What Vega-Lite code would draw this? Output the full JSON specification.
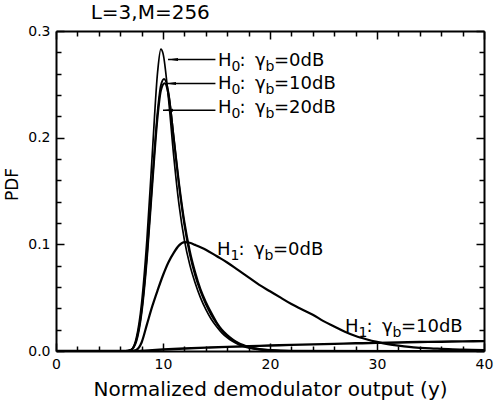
{
  "$schema": "https://vega.github.io/schema/vega-lite/v6.json",
  "width": 428,
  "height": 320,
  "autosize": {"type": "none"},
  "padding": {"left": 56, "top": 31, "right": 10, "bottom": 53},
  "background": "white",
  "config": {
    "view": {"stroke": null},
    "axis": {
      "domainColor": "black",
      "domainWidth": 2,
      "tickColor": "black",
      "tickWidth": 1.5,
      "grid": false,
      "labelFont": "DejaVu Sans",
      "labelFontSize": 14,
      "labelColor": "black",
      "titleFont": "DejaVu Sans",
      "titleFontWeight": "normal",
      "titleColor": "black"
    },
    "text": {"font": "DejaVu Sans", "color": "black"}
  },
  "datasets": {
    "curves": [
      {"s": "H0_0", "x": 0, "y": 0}, {"s": "H0_0", "x": 6.5, "y": 0}, {"s": "H0_0", "x": 7.0, "y": 0.001},
      {"s": "H0_0", "x": 7.5, "y": 0.012}, {"s": "H0_0", "x": 8.0, "y": 0.045}, {"s": "H0_0", "x": 8.5, "y": 0.105},
      {"s": "H0_0", "x": 9.0, "y": 0.185}, {"s": "H0_0", "x": 9.5, "y": 0.262}, {"s": "H0_0", "x": 9.8, "y": 0.283},
      {"s": "H0_0", "x": 10.0, "y": 0.279}, {"s": "H0_0", "x": 10.5, "y": 0.238}, {"s": "H0_0", "x": 11.0, "y": 0.183},
      {"s": "H0_0", "x": 11.5, "y": 0.137}, {"s": "H0_0", "x": 12.0, "y": 0.104}, {"s": "H0_0", "x": 12.5, "y": 0.081},
      {"s": "H0_0", "x": 13.0, "y": 0.064}, {"s": "H0_0", "x": 13.5, "y": 0.05}, {"s": "H0_0", "x": 14.0, "y": 0.039},
      {"s": "H0_0", "x": 14.5, "y": 0.03}, {"s": "H0_0", "x": 15.0, "y": 0.023}, {"s": "H0_0", "x": 15.5, "y": 0.017},
      {"s": "H0_0", "x": 16.0, "y": 0.0125}, {"s": "H0_0", "x": 16.5, "y": 0.009}, {"s": "H0_0", "x": 17.0, "y": 0.0063},
      {"s": "H0_0", "x": 17.5, "y": 0.0043}, {"s": "H0_0", "x": 18.0, "y": 0.0029}, {"s": "H0_0", "x": 19.0, "y": 0.0012},
      {"s": "H0_0", "x": 20.0, "y": 0.0004}, {"s": "H0_0", "x": 22.0, "y": 0}, {"s": "H0_0", "x": 40.0, "y": 0},

      {"s": "H0_10", "x": 0, "y": 0}, {"s": "H0_10", "x": 6.5, "y": 0}, {"s": "H0_10", "x": 7.0, "y": 0.001},
      {"s": "H0_10", "x": 7.5, "y": 0.01}, {"s": "H0_10", "x": 8.0, "y": 0.038}, {"s": "H0_10", "x": 8.5, "y": 0.09},
      {"s": "H0_10", "x": 9.0, "y": 0.16}, {"s": "H0_10", "x": 9.5, "y": 0.225}, {"s": "H0_10", "x": 9.8, "y": 0.249},
      {"s": "H0_10", "x": 10.1, "y": 0.255}, {"s": "H0_10", "x": 10.5, "y": 0.243}, {"s": "H0_10", "x": 11.0, "y": 0.2},
      {"s": "H0_10", "x": 11.5, "y": 0.155}, {"s": "H0_10", "x": 12.0, "y": 0.118}, {"s": "H0_10", "x": 12.5, "y": 0.091},
      {"s": "H0_10", "x": 13.0, "y": 0.071}, {"s": "H0_10", "x": 13.5, "y": 0.056}, {"s": "H0_10", "x": 14.0, "y": 0.044},
      {"s": "H0_10", "x": 14.5, "y": 0.034}, {"s": "H0_10", "x": 15.0, "y": 0.026}, {"s": "H0_10", "x": 15.5, "y": 0.019},
      {"s": "H0_10", "x": 16.0, "y": 0.014}, {"s": "H0_10", "x": 16.5, "y": 0.0102}, {"s": "H0_10", "x": 17.0, "y": 0.0073},
      {"s": "H0_10", "x": 17.5, "y": 0.0051}, {"s": "H0_10", "x": 18.0, "y": 0.0035}, {"s": "H0_10", "x": 19.0, "y": 0.0016},
      {"s": "H0_10", "x": 20.0, "y": 0.0007}, {"s": "H0_10", "x": 22.0, "y": 0.0001}, {"s": "H0_10", "x": 40.0, "y": 0},

      {"s": "H0_20", "x": 0, "y": 0}, {"s": "H0_20", "x": 6.5, "y": 0}, {"s": "H0_20", "x": 7.0, "y": 0.001},
      {"s": "H0_20", "x": 7.5, "y": 0.009}, {"s": "H0_20", "x": 8.0, "y": 0.036}, {"s": "H0_20", "x": 8.5, "y": 0.087},
      {"s": "H0_20", "x": 9.0, "y": 0.156}, {"s": "H0_20", "x": 9.5, "y": 0.22}, {"s": "H0_20", "x": 9.8, "y": 0.244},
      {"s": "H0_20", "x": 10.15, "y": 0.251}, {"s": "H0_20", "x": 10.5, "y": 0.241}, {"s": "H0_20", "x": 11.0, "y": 0.2},
      {"s": "H0_20", "x": 11.5, "y": 0.157}, {"s": "H0_20", "x": 12.0, "y": 0.121}, {"s": "H0_20", "x": 12.5, "y": 0.094},
      {"s": "H0_20", "x": 13.0, "y": 0.074}, {"s": "H0_20", "x": 13.5, "y": 0.058}, {"s": "H0_20", "x": 14.0, "y": 0.046},
      {"s": "H0_20", "x": 14.5, "y": 0.036}, {"s": "H0_20", "x": 15.0, "y": 0.027}, {"s": "H0_20", "x": 15.5, "y": 0.02},
      {"s": "H0_20", "x": 16.0, "y": 0.015}, {"s": "H0_20", "x": 16.5, "y": 0.011}, {"s": "H0_20", "x": 17.0, "y": 0.0079},
      {"s": "H0_20", "x": 17.5, "y": 0.0056}, {"s": "H0_20", "x": 18.0, "y": 0.0039}, {"s": "H0_20", "x": 19.0, "y": 0.0018},
      {"s": "H0_20", "x": 20.0, "y": 0.0008}, {"s": "H0_20", "x": 22.0, "y": 0.0001}, {"s": "H0_20", "x": 40.0, "y": 0},

      {"s": "H1_0", "x": 0, "y": 0}, {"s": "H1_0", "x": 7.0, "y": 0}, {"s": "H1_0", "x": 7.5, "y": 0.001},
      {"s": "H1_0", "x": 8.0, "y": 0.008}, {"s": "H1_0", "x": 8.5, "y": 0.025}, {"s": "H1_0", "x": 9.0, "y": 0.042},
      {"s": "H1_0", "x": 9.5, "y": 0.057}, {"s": "H1_0", "x": 10.0, "y": 0.071}, {"s": "H1_0", "x": 10.5, "y": 0.083},
      {"s": "H1_0", "x": 11.0, "y": 0.092}, {"s": "H1_0", "x": 11.5, "y": 0.099}, {"s": "H1_0", "x": 12.0, "y": 0.102},
      {"s": "H1_0", "x": 12.5, "y": 0.1015}, {"s": "H1_0", "x": 13.0, "y": 0.0995}, {"s": "H1_0", "x": 14.0, "y": 0.095},
      {"s": "H1_0", "x": 15.0, "y": 0.089}, {"s": "H1_0", "x": 16.0, "y": 0.083}, {"s": "H1_0", "x": 17.0, "y": 0.076},
      {"s": "H1_0", "x": 18.0, "y": 0.069}, {"s": "H1_0", "x": 19.0, "y": 0.062}, {"s": "H1_0", "x": 20.0, "y": 0.056},
      {"s": "H1_0", "x": 21.0, "y": 0.05}, {"s": "H1_0", "x": 22.0, "y": 0.044}, {"s": "H1_0", "x": 23.0, "y": 0.039},
      {"s": "H1_0", "x": 24.0, "y": 0.034}, {"s": "H1_0", "x": 25.0, "y": 0.028}, {"s": "H1_0", "x": 26.0, "y": 0.023},
      {"s": "H1_0", "x": 27.0, "y": 0.018}, {"s": "H1_0", "x": 28.0, "y": 0.014}, {"s": "H1_0", "x": 29.0, "y": 0.011},
      {"s": "H1_0", "x": 30.0, "y": 0.0085}, {"s": "H1_0", "x": 31.0, "y": 0.0065}, {"s": "H1_0", "x": 32.0, "y": 0.005},
      {"s": "H1_0", "x": 33.0, "y": 0.0038}, {"s": "H1_0", "x": 34.0, "y": 0.003}, {"s": "H1_0", "x": 35.0, "y": 0.0024},
      {"s": "H1_0", "x": 36.0, "y": 0.002}, {"s": "H1_0", "x": 38.0, "y": 0.0012}, {"s": "H1_0", "x": 40.0, "y": 0.0008},

      {"s": "H1_10", "x": 0, "y": 0}, {"s": "H1_10", "x": 7.5, "y": 0}, {"s": "H1_10", "x": 8.0, "y": 0.0002},
      {"s": "H1_10", "x": 9.0, "y": 0.0008}, {"s": "H1_10", "x": 10.0, "y": 0.0014}, {"s": "H1_10", "x": 12.0, "y": 0.0024},
      {"s": "H1_10", "x": 14.0, "y": 0.0032}, {"s": "H1_10", "x": 16.0, "y": 0.0039}, {"s": "H1_10", "x": 18.0, "y": 0.0045},
      {"s": "H1_10", "x": 20.0, "y": 0.0051}, {"s": "H1_10", "x": 22.0, "y": 0.0057}, {"s": "H1_10", "x": 24.0, "y": 0.0062},
      {"s": "H1_10", "x": 26.0, "y": 0.0067}, {"s": "H1_10", "x": 28.0, "y": 0.0072}, {"s": "H1_10", "x": 30.0, "y": 0.0076},
      {"s": "H1_10", "x": 32.0, "y": 0.008}, {"s": "H1_10", "x": 34.0, "y": 0.0084}, {"s": "H1_10", "x": 36.0, "y": 0.0087},
      {"s": "H1_10", "x": 38.0, "y": 0.009}, {"s": "H1_10", "x": 40.0, "y": 0.0093}
    ],
    "labels": [
      {"x": 15.14, "y": 0.2669, "hyp": "0", "snr": "=0dB"},
      {"x": 15.14, "y": 0.2453, "hyp": "0", "snr": "=10dB"},
      {"x": 15.14, "y": 0.2228, "hyp": "0", "snr": "=20dB"},
      {"x": 15.05, "y": 0.0897, "hyp": "1", "snr": "=0dB"},
      {"x": 27.0, "y": 0.0178, "hyp": "1", "snr": "=10dB"}
    ],
    "arrows": [
      {"x1": 14.9, "x2": 10.47, "y": 0.2732},
      {"x1": 14.9, "x2": 10.28, "y": 0.2507},
      {"x1": 14.9, "x2": 10.0, "y": 0.2257}
    ],
    "heading": [
      {"x": 3.24, "y": 0.3114, "text": "L=3,M=256"}
    ]
  },
  "layer": [
    {
      "data": {"name": "curves"},
      "mark": {"type": "line", "interpolate": "monotone", "color": "black", "clip": true},
      "encoding": {
        "x": {
          "field": "x", "type": "quantitative",
          "scale": {"domain": [0, 40], "nice": false, "zero": false},
          "axis": {
            "orient": "bottom",
            "values": [0, 10, 20, 30, 40],
            "tickSize": -8,
            "labelPadding": 14,
            "labelFlush": false,
            "title": "Normalized demodulator output (y)",
            "titleFontSize": 20,
            "titlePadding": 8
          }
        },
        "y": {
          "field": "y", "type": "quantitative",
          "scale": {"domain": [0, 0.3], "nice": false},
          "axis": {
            "orient": "left",
            "values": [0, 0.1, 0.2, 0.3],
            "format": ".1f",
            "tickSize": -8,
            "labelPadding": 14,
            "labelFlush": false,
            "title": "PDF",
            "titleFontSize": 17,
            "titlePadding": 6,
            "titleY": 153
          }
        },
        "detail": {"field": "s"},
        "strokeWidth": {
          "field": "s", "type": "nominal", "legend": null,
          "scale": {"domain": ["H0_0", "H0_10", "H0_20", "H1_0", "H1_10"], "range": [1.7, 2.4, 2.4, 1.7, 2]}
        }
      }
    },
    {
      "data": {"name": "arrows"},
      "mark": {"type": "rule", "color": "black", "strokeWidth": 1.5},
      "encoding": {
        "x": {"field": "x1", "type": "quantitative", "axis": {
          "orient": "bottom", "domain": false, "labels": false, "title": null,
          "values": [2,4,6,8,12,14,16,18,22,24,26,28,32,34,36,38],
          "tickSize": -5
        }},
        "x2": {"field": "x2"},
        "y": {"field": "y", "type": "quantitative", "axis": {
          "orient": "left", "domain": false, "labels": false, "title": null,
          "values": [0.02,0.04,0.06,0.08,0.12,0.14,0.16,0.18,0.22,0.24,0.26,0.28],
          "tickSize": -5
        }}
      }
    },
    {
      "data": {"name": "arrows"},
      "mark": {"type": "point", "shape": "M0,0L2,-0.3L2,0.3Z", "size": 100, "filled": true, "color": "black", "opacity": 1},
      "encoding": {
        "x": {"field": "x2", "type": "quantitative", "axis": {
          "orient": "top", "labels": false, "title": null,
          "values": [0, 10, 20, 30, 40],
          "tickSize": -8
        }},
        "y": {"field": "y", "type": "quantitative", "axis": {
          "orient": "right", "labels": false, "title": null,
          "values": [0, 0.1, 0.2, 0.3],
          "tickSize": -8
        }}
      }
    },
    {
      "data": {"name": "heading"},
      "mark": {"type": "text", "align": "left", "baseline": "alphabetic", "fontSize": 20},
      "encoding": {
        "x": {"field": "x", "type": "quantitative", "axis": {
          "orient": "top", "domain": false, "labels": false, "title": null,
          "values": [2,4,6,8,12,14,16,18,22,24,26,28,32,34,36,38],
          "tickSize": -5
        }},
        "y": {"field": "y", "type": "quantitative", "axis": {
          "orient": "right", "domain": false, "labels": false, "title": null,
          "values": [0.02,0.04,0.06,0.08,0.12,0.14,0.16,0.18,0.22,0.24,0.26,0.28],
          "tickSize": -5
        }},
        "text": {"field": "text"}
      }
    },
    {
      "data": {"name": "labels"},
      "layer": [
        {"mark": {"type": "text", "text": "H", "align": "left", "baseline": "alphabetic", "fontSize": 18}},
        {"mark": {"type": "text", "align": "left", "baseline": "alphabetic", "fontSize": 14, "dx": 13.5, "dy": 5},
         "encoding": {"text": {"field": "hyp"}}},
        {"mark": {"type": "text", "text": ":", "align": "left", "baseline": "alphabetic", "fontSize": 18, "dx": 21.5}},
        {"mark": {"type": "text", "text": "γ", "align": "left", "baseline": "alphabetic", "fontSize": 18, "dx": 37}},
        {"mark": {"type": "text", "text": "b", "align": "left", "baseline": "alphabetic", "fontSize": 14, "dx": 47.5, "dy": 5}},
        {"mark": {"type": "text", "align": "left", "baseline": "alphabetic", "fontSize": 18, "dx": 56},
         "encoding": {"text": {"field": "snr"}}}
      ],
      "encoding": {
        "x": {"field": "x", "type": "quantitative", "axis": null},
        "y": {"field": "y", "type": "quantitative", "axis": null}
      }
    }
  ],
  "resolve": {"axis": {"x": "independent", "y": "independent"}}
}
